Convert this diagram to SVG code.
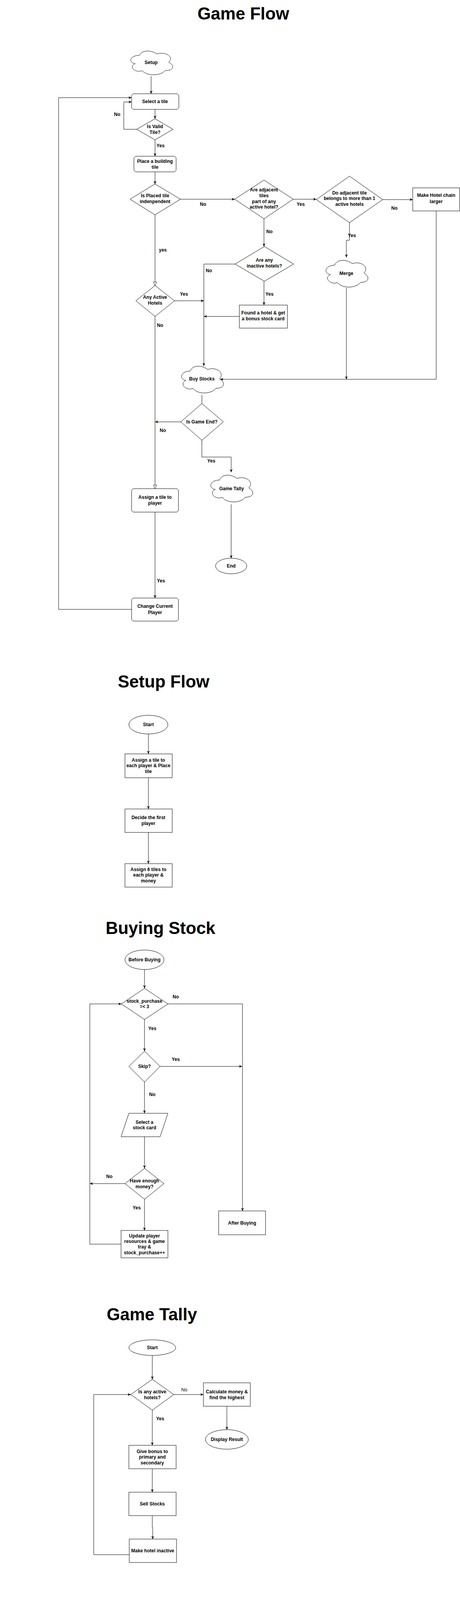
<svg xmlns="http://www.w3.org/2000/svg" xmlns:xlink="http://www.w3.org/1999/xlink" width="1178" height="6182" viewBox="0 0 1178 6182">
<style>
.t{font-family:"Liberation Sans",Arial,sans-serif;font-weight:bold;font-size:12px;text-anchor:middle;fill:#000}
.tn{font-family:"Liberation Sans",Arial,sans-serif;font-weight:normal;font-size:12px;text-anchor:middle;fill:#000}
.ttl{font-family:"Liberation Sans",Arial,sans-serif;font-weight:bold;font-size:44px;text-anchor:middle;fill:#000}
.n{fill:#fff;stroke:#000;stroke-width:1}
.c{fill:none;stroke:#000;stroke-width:1}
.a{marker-end:url(#arr)}
.h{marker-end:url(#hol)}
</style>
<defs>
<marker id="arr" viewBox="0 0 10 10" refX="10" refY="5" markerWidth="8" markerHeight="8" orient="auto" markerUnits="userSpaceOnUse"><path d="M0,0.5 L10,5 L0,9.5 L3,5 Z" fill="#000"/></marker>
<marker id="hol" viewBox="0 0 12 12" refX="11" refY="6" markerWidth="11" markerHeight="11" orient="auto" markerUnits="userSpaceOnUse"><path d="M1,1.5 L11,6 L1,10.5 Z" fill="#fff" stroke="#000" stroke-width="1"/></marker>
<path id="cloud" d="M30,20 C6,20 0,40 19.2,44 C0,52.8 21.6,72 37.2,64 C48,80 84,80 96,64 C120,64 120,48 105,40 C120,24 96,8 75,16 C60,4 36,4 30,20 Z"/>
</defs>
<rect width="1178" height="6182" fill="#fff"/>

<!-- ================= TITLES ================= -->
<g id="titles">
<text class="ttl" x="623" y="50">Game Flow</text>
<text class="ttl" x="419" y="1760">Setup Flow</text>
<text class="ttl" x="411" y="2391">Buying Stock</text>
<text class="ttl" x="389" y="3380">Game Tally</text>
<text class="ttl" x="404" y="4141">Merge Flow</text>
<text class="ttl" x="411" y="5420">Player Flow</text>
</g>

<!-- ================= CONNECTORS ================= -->
<g id="connectors">
<!-- Game flow -->
<path class="c a" d="M387,195 L387,240"/>
<path class="c a" d="M397,280 L397,304"/>
<path class="c a" d="M350,331 L317,331 L317,261 L337,261"/>
<path class="c a" d="M397,358 L397,400"/>
<path class="c a" d="M397,440 L397,471"/>
<path class="c a" d="M462,510 L601,510"/>
<path class="c a" d="M751,510 L810,510"/>
<path class="c a" d="M980,511 L1057,511"/>
<path class="c a" d="M1117,540 L1117,971 L564,971"/>
<path class="c a" d="M895,570 L895,615 L887,615 L887,659"/>
<path class="c a" d="M887,737 L887,971"/>
<path class="c a" d="M676,560 L676,631"/>
<path class="c a" d="M602,676 L522,676 L522,937"/>
<path class="c a" d="M676,720 L676,781"/>
<path class="c a" d="M613,810 L522,810"/>
<path class="c h" d="M397,550 L397,731"/>
<path class="c a" d="M447,770 L522,770"/>
<path class="c h" d="M397,810 L397,1251"/>
<path class="c" d="M517,1011 L517,1033"/>
<path class="c a" d="M463,1080 L397,1080"/>
<path class="c a" d="M517,1127 L517,1170 L592,1170 L592,1209"/>
<path class="c a" d="M592,1291 L592,1429"/>
<path class="c a" d="M397,1311 L397,1531"/>
<path class="c a" d="M337,1560 L150,1560 L150,250 L337,250"/>
<!-- Setup flow -->
<path class="c a" d="M380,1879 L380,1930"/>
<path class="c a" d="M380,1991 L380,2071"/>
<path class="c a" d="M380,2131 L380,2211"/>
<!-- Buying stock -->
<path class="c a" d="M370,2482 L370,2530"/>
<path class="c a" d="M430,2570 L621,2570 L621,3100"/>
<path class="c a" d="M370,2610 L370,2691"/>
<path class="c a" d="M410,2730 L620,2730"/>
<path class="c a" d="M370,2770 L370,2850"/>
<path class="c a" d="M370,2910 L370,2991"/>
<path class="c a" d="M320,3030 L230,3030"/>
<path class="c a" d="M370,3070 L370,3150"/>
<path class="c a" d="M310,3185 L230,3185 L230,2570 L311,2570"/>
<!-- Game tally -->
<path class="c a" d="M390,3470 L390,3531"/>
<path class="c a" d="M445,3570 L521,3570"/>
<path class="c a" d="M581,3600 L581,3660"/>
<path class="c a" d="M390,3610 L390,3700"/>
<path class="c a" d="M390,3760 L390,3820"/>
<path class="c a" d="M390,3880 L390,3910 L391,3910 L391,3940"/>
<path class="c a" d="M331,3980 L240,3980 L240,3570 L335,3570"/>
<!-- Merge flow -->
<path class="c a" d="M406,4280 L406,4360"/>
<path class="c a" d="M406,4421 L406,4490"/>
<path class="c a" d="M463,4530 L541,4530"/>
<path class="c a" d="M601,4561 L601,4623 L406,4623"/>
<path class="c a" d="M406,4571 L406,4661"/>
<path class="c a" d="M345,4700 L200,4700"/>
<path class="c a" d="M406,4740 L406,4830"/>
<path class="c a" d="M406,4890 L406,4941"/>
<path class="c a" d="M500,4990 L612,4990"/>
<path class="c a" d="M672,4961 L672,4700 L466,4700"/>
<path class="c a" d="M405,5040 L405,5111"/>
<path class="c a" d="M396,5170 L396,5251"/>
<path class="c" d="M337,5280 L290.5,5280 L290.5,4920 L406,4920"/>
<!-- Player flow -->
<path class="c a" d="M400,5492 L400,5542"/>
<path class="c a" d="M400,5581 L400,5661"/>
<path class="c a" d="M400,5620 L51,5620 L51,5831"/>
<path class="c a" d="M400,5621 L270,5621 L270,5831"/>
<path class="c a" d="M400,5631 L626,5631 L626,5692"/>
<path class="c a" d="M400,5721 L400,5761"/>
<path class="c a" d="M400,5821 L400,5861 L330,5861"/>
<path class="c a" d="M620,5762 L620,5876 L330,5876"/>
<path class="c a" d="M270,5891 L270,5991"/>
<path class="c a" d="M51,5891 L51,6036 L210,6036"/>
<path class="c a" d="M270,6051 L270,6122"/>
</g>

<!-- ================= EDGE LABELS ================= -->
<g id="edge-labels">
<text class="t" x="300" y="297">No</text>
<text class="t" x="411" y="377">Yes</text>
<text class="t" x="520" y="527">No</text>
<text class="t" x="770" y="527">Yes</text>
<text class="t" x="1010" y="537">No</text>
<text class="t" x="901" y="607">Yes</text>
<text class="t" x="690" y="597">No</text>
<text class="t" x="535" y="697">No</text>
<text class="t" x="690" y="757">Yes</text>
<text class="t" x="417" y="644">yes</text>
<text class="t" x="471" y="757">Yes</text>
<text class="t" x="410" y="837">No</text>
<text class="t" x="417" y="1106">No</text>
<text class="t" x="541" y="1184">Yes</text>
<text class="t" x="412" y="1491">Yes</text>
<text class="t" x="450" y="2556">No</text>
<text class="t" x="390" y="2637">Yes</text>
<text class="t" x="450" y="2716">Yes</text>
<text class="t" x="390" y="2806">No</text>
<text class="t" x="280" y="3016">No</text>
<text class="t" x="350" y="3096">Yes</text>
<text class="tn" x="472" y="3562">No</text>
<text class="t" x="410" y="3636">Yes</text>
<text class="t" x="490" y="4517">Yes</text>
<text class="t" x="424" y="4609">No</text>
<text class="t" x="277" y="4693">No</text>
<text class="t" x="420" y="4777">Yes</text>
<text class="t" x="540" y="4978">No</text>
<text class="t" x="420" y="5068">Yes</text>
</g>

<!-- ================= GAME FLOW NODES ================= -->
<g id="gf-setup"><use href="#cloud" class="n" transform="translate(327,124) scale(1,0.8875)"/><text class="t" x="387" y="164">Setup</text></g>
<g id="gf-select-tile"><rect class="n" x="337" y="240" width="121" height="40" rx="6"/><text class="t" x="397" y="264">Select a tile</text></g>
<g id="gf-valid-tile"><polygon class="n" points="397,304 443,331 397,358 350,331" stroke-linejoin="round"/><text class="t" x="397" y="328">Is Valid</text><text class="t" x="397" y="343">Tile?</text></g>
<g id="gf-place-building"><rect class="n" x="343" y="400" width="108" height="40" rx="6"/><text class="t" x="397" y="417">Place a building</text><text class="t" x="397" y="432">tile</text></g>
<g id="gf-independent"><polygon class="n" points="397,471 462,510 397,550 333,510"/><text class="t" x="397" y="505">Is  Placed tile</text><text class="t" x="397" y="520">indenpendent</text></g>
<g id="gf-adjacent-active"><polygon class="n" points="676,461 751,510 676,560 601,510"/><text class="t" x="676" y="490">Are adjacent</text><text class="t" x="676" y="505">tiles</text><text class="t" x="676" y="520">part of any</text><text class="t" x="676" y="534">active hotel?</text></g>
<g id="gf-more-than-one"><polygon class="n" points="895,451 980,511 895,570 810,511"/><text class="t" x="895" y="498">Do adjacent tile</text><text class="t" x="895" y="512">belongs to more than 1</text><text class="t" x="895" y="527">active hotels</text></g>
<g id="gf-make-larger"><rect class="n" x="1057" y="481" width="120" height="59"/><text class="t" x="1117" y="504">Make Hotel chain</text><text class="t" x="1117" y="520">larger</text></g>
<g id="gf-merge"><use href="#cloud" class="n" transform="translate(827,659)"/><text class="t" x="887" y="704">Merge</text></g>
<g id="gf-inactive"><polygon class="n" points="677,631 752,676 677,720 602,676"/><text class="t" x="677" y="670">Are any</text><text class="t" x="677" y="685">inactive hotels?</text></g>
<g id="gf-found-hotel"><rect class="n" x="613" y="781" width="123" height="59"/><text class="t" x="674" y="805">Found a hotel &amp; get</text><text class="t" x="674" y="820">a bonus stock card</text></g>
<g id="gf-any-active"><polygon class="n" points="397,731 447,770 397,810 348,770"/><text class="t" x="397" y="765">Any Active</text><text class="t" x="397" y="780">Hotels</text></g>
<g id="gf-buy-stocks"><use href="#cloud" class="n" transform="translate(457,930)"/><text class="t" x="517" y="974">Buy Stocks</text></g>
<g id="gf-game-end"><polygon class="n" points="517,1033 572,1080 517,1127 463,1080" stroke-linejoin="round"/><text class="t" x="517" y="1084">Is Game End?</text></g>
<g id="gf-game-tally"><use href="#cloud" class="n" transform="translate(532,1209)"/><text class="t" x="593" y="1255">Game Tally</text></g>
<g id="gf-end"><ellipse class="n" cx="592" cy="1449" rx="40" ry="20"/><text class="t" x="592" y="1453">End</text></g>
<g id="gf-assign-tile"><rect class="n" x="337" y="1251" width="120" height="60" rx="6"/><text class="t" x="397" y="1277">Assign a tile to</text><text class="t" x="397" y="1292">player</text></g>
<g id="gf-change-player"><rect class="n" x="337" y="1531" width="120" height="59" rx="6"/><text class="t" x="397" y="1556">Change Current</text><text class="t" x="397" y="1572">Player</text></g>

<!-- ================= SETUP FLOW NODES ================= -->
<g id="sf-start"><ellipse class="n" cx="380" cy="1855" rx="50" ry="24"/><text class="t" x="380" y="1859">Start</text></g>
<g id="sf-assign-tile"><rect class="n" x="320" y="1930" width="121" height="61"/><text class="t" x="380" y="1950">Assign a tile to</text><text class="t" x="380" y="1964">each player &amp; Place</text><text class="t" x="380" y="1979">tile</text></g>
<g id="sf-first-player"><rect class="n" x="320" y="2071" width="121" height="60"/><text class="t" x="380" y="2097">Decide the first</text><text class="t" x="380" y="2112">player</text></g>
<g id="sf-assign-six"><rect class="n" x="320" y="2211" width="121" height="60"/><text class="t" x="380" y="2230">Assign 6 tiles to</text><text class="t" x="380" y="2244">each player &amp;</text><text class="t" x="380" y="2259">money</text></g>

<!-- ================= BUYING STOCK NODES ================= -->
<g id="bs-before"><ellipse class="n" cx="370" cy="2457" rx="50" ry="25"/><text class="t" x="370" y="2461">Before Buying</text></g>
<g id="bs-count"><polygon class="n" points="370,2530 430,2570 370,2610 311,2570"/><text class="t" x="370" y="2567">stock_purchase</text><text class="t" x="370" y="2581">=&lt; 3</text></g>
<g id="bs-skip"><polygon class="n" points="370,2691 410,2730 370,2770 330,2730"/><text class="t" x="370" y="2734">Skip?</text></g>
<g id="bs-select"><polygon class="n" points="330,2850 430,2850 410,2910 310,2910"/><text class="t" x="370" y="2877">Select a</text><text class="t" x="370" y="2891">stock card</text></g>
<g id="bs-money"><polygon class="n" points="370,2991 420,3030 370,3070 320,3030"/><text class="t" x="370" y="3027">Have enough</text><text class="t" x="370" y="3042">money?</text></g>
<g id="bs-update"><rect class="n" x="310" y="3150" width="120" height="70"/><text class="t" x="370" y="3168">Update player</text><text class="t" x="370" y="3182">resources &amp; game</text><text class="t" x="370" y="3196">tray &amp;</text><text class="t" x="370" y="3211">stock_purchase++</text></g>
<g id="bs-after"><rect class="n" x="560" y="3100" width="120" height="61"/><text class="t" x="620" y="3135">After Buying</text></g>

<!-- ================= GAME TALLY NODES ================= -->
<g id="gt-start"><ellipse class="n" cx="390" cy="3450" rx="60" ry="20"/><text class="t" x="390" y="3454">Start</text></g>
<g id="gt-any-active"><polygon class="n" points="390,3531 445,3570 390,3610 335,3570"/><text class="t" x="390" y="3567">Is any active</text><text class="t" x="390" y="3582">hotels?</text></g>
<g id="gt-calculate"><rect class="n" x="521" y="3540" width="120" height="60"/><text class="t" x="581" y="3567">Calculate money &amp;</text><text class="t" x="581" y="3582">find the highest</text></g>
<g id="gt-display"><ellipse class="n" cx="581" cy="3685" rx="55" ry="25"/><text class="t" x="581" y="3689">Display Result</text></g>
<g id="gt-bonus"><rect class="n" x="330" y="3700" width="121" height="60"/><text class="t" x="390" y="3720">Give bonus to</text><text class="t" x="390" y="3734">primary and</text><text class="t" x="390" y="3749">secondary</text></g>
<g id="gt-sell"><rect class="n" x="330" y="3820" width="121" height="60"/><text class="t" x="390" y="3854">Sell Stocks</text></g>
<g id="gt-inactive"><rect class="n" x="331" y="3940" width="121" height="60"/><text class="t" x="391" y="3974">Make hotel inactive</text></g>

<!-- ================= MERGE FLOW NODES ================= -->
<g id="mf-start"><ellipse class="n" cx="406" cy="4250" rx="54" ry="30"/><text class="t" x="406" y="4254">Start</text></g>
<g id="mf-find"><rect class="n" x="346" y="4360" width="120" height="61"/><text class="t" x="406" y="4394">Find largest hotel</text></g>
<g id="mf-more"><polygon class="n" points="406,4490 463,4530 406,4571 348,4530"/><text class="t" x="406" y="4527">Is more than 1</text><text class="t" x="406" y="4542">largest hotel</text></g>
<g id="mf-choose"><rect class="n" x="541" y="4501" width="121" height="60"/><text class="t" x="601" y="4527">Choose a hotel to</text><text class="t" x="601" y="4542">merge</text></g>
<g id="mf-to-merge"><polygon class="n" points="406,4661 466,4700 406,4740 345,4700"/><text class="t" x="406" y="4697">Hotels to be</text><text class="t" x="406" y="4712">merged &gt; 0</text></g>
<g id="mf-end"><ellipse class="n" cx="160" cy="4700" rx="40" ry="25"/><text class="t" x="160" y="4704">End</text></g>
<g id="mf-bonus"><rect class="n" x="346" y="4830" width="120" height="60"/><text class="t" x="406" y="4857">Give Primary &amp;</text><text class="t" x="406" y="4872">secondary bonus</text></g>
<g id="mf-players"><polygon class="n" points="405,4941 500,4990 405,5040 309,4990"/><text class="t" x="405" y="4987">if player with stocks</text><text class="t" x="405" y="5002">is greater than 0</text></g>
<g id="mf-remove"><rect class="n" x="612" y="4961" width="120" height="59"/><text class="t" x="672" y="4973">Remove merged</text><text class="t" x="672" y="4987">hotel &amp;</text><text class="t" x="672" y="5002">hotel to be merged -</text><text class="t" x="672" y="5016">1</text></g>
<g id="mf-keep"><rect class="n" x="337" y="5111" width="119" height="59"/><text class="t" x="396" y="5137">Keep, sell, trade the</text><text class="t" x="396" y="5152">stocks</text></g>
<g id="mf-decrement"><rect class="n" x="337" y="5251" width="119" height="59"/><text class="t" x="396" y="5284">player with stock - 1</text></g>

<!-- ================= PLAYER FLOW NODES ================= -->
<g id="pf-setup"><rect class="n" x="330" y="5452" width="140" height="40" rx="6"/><text class="t" x="400" y="5476">Game Setup</text></g>
<g id="pf-place"><rect class="n" x="341" y="5542" width="119" height="39" rx="6"/><text class="t" x="400" y="5566">Place a tile</text></g>
<g id="pf-found"><rect class="n" x="341" y="5661" width="119" height="60" rx="6"/><text class="t" x="400" y="5695">Found a hotel</text></g>
<g id="pf-free-stock"><rect class="n" x="341" y="5761" width="119" height="60" rx="6"/><text class="t" x="400" y="5788">Get a free stock</text><text class="t" x="400" y="5803">card</text></g>
<g id="pf-merge"><use href="#cloud" class="n" transform="translate(560,5680)"/><text class="t" x="620" y="5725">Merge</text></g>
<g id="pf-no-active"><rect class="n" x="0.5" y="5831" width="120" height="60"/><text class="t" x="60" y="5865">No active hotel</text></g>
<g id="pf-buy"><rect class="n" x="210" y="5831" width="120" height="60"/><text class="t" x="270" y="5865">Buy Stocks</text></g>
<g id="pf-take"><rect class="n" x="210" y="5991" width="120" height="60"/><text class="t" x="270" y="6025">Take a tile</text></g>
<g id="pf-end"><ellipse class="n" cx="268" cy="6151" rx="60" ry="29"/><text class="t" x="268" y="6155">End</text></g>
</svg>
